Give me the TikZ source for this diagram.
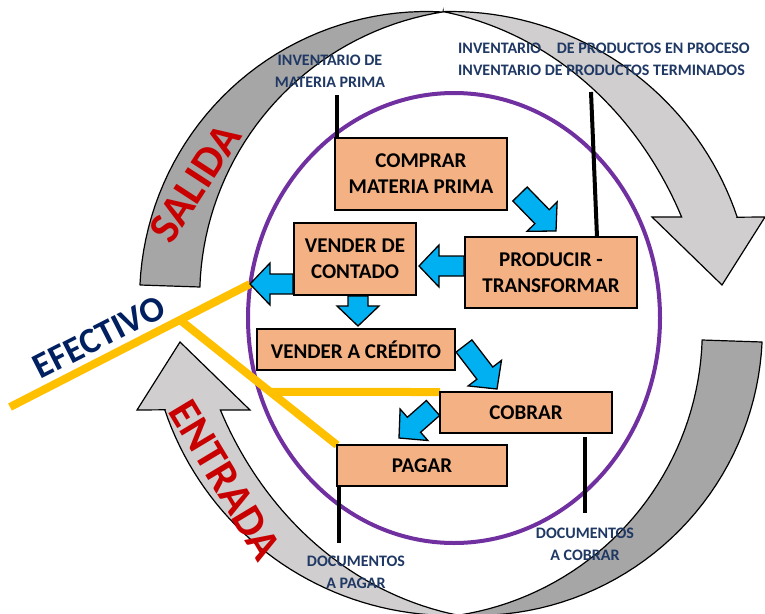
\documentclass[tikz,border=0pt]{standalone}
\usepackage{fontspec}
\setmainfont{Carlito}
\usetikzlibrary{calc}
\definecolor{dkgray}{HTML}{A6A6A6}
\definecolor{ltgray}{HTML}{D0CECE}
\definecolor{purplec}{HTML}{7030A0}
\definecolor{ylwc}{HTML}{FFC000}
\definecolor{bluec}{HTML}{00B0F0}
\definecolor{boxfill}{HTML}{F4B183}
\definecolor{navyc}{HTML}{1F3864}
\definecolor{efnavy}{HTML}{002060}
\definecolor{bigred}{HTML}{C80000}
\newcommand\barrow[2]{%
  \coordinate (bh) at ($(#2)!20pt!(#1)$);
  \draw[bluearr] ($(#1)!10pt!90:(#2)$) -- ($(bh)!10pt!90:(#2)$) -- ($(bh)!21pt!90:(#2)$) -- (#2)
    -- ($(bh)!21pt!-90:(#2)$) -- ($(bh)!10pt!-90:(#2)$) -- ($(#1)!10pt!-90:(#2)$) -- cycle;}
\begin{document}
\begin{tikzpicture}[x=1pt,y=-1pt,
  box/.style={draw=black, line width=1.8pt, fill=boxfill, inner sep=0pt, outer sep=0pt, align=center,
    font=\fontsize{21}{26}\selectfont\bfseries},
  lbl/.style={text=navyc, font=\fontsize{16}{22}\selectfont\bfseries, align=center, inner sep=0pt},
  big/.style={text=bigred, font=\fontsize{44}{44}\selectfont\bfseries, inner sep=0pt},
  blk/.style={line width=4pt, draw=black},
  ylw/.style={line width=8pt, draw=ylwc},
  bluearr/.style={fill=bluec, draw=black, line width=1.3pt, line join=miter},
  darkarc/.style={fill=dkgray, draw=black, line width=1.2pt, line join=round},
  lightarc/.style={fill=ltgray, draw=black, line width=1.2pt, line join=miter},
  ring/.style={draw=purplec, line width=4pt}]
\useasboundingbox (0,0) rectangle (765,613);
\fill[white] (0,0) rectangle (765,613);
% ring of gray arrows (top half, then rotated copy)
\foreach \rot in {0,180}{
\begin{scope}[rotate around={\rot:(451,313.5)}]
  \draw[darkarc] (140,285) -- (200,287)
    -- plot[domain=181.9:261.1,samples=40] ({487.7+288*cos(\x)},{296.4+288*sin(\x)})
    -- plot[domain=273.3:182.7,samples=40] ({426.6+287*cos(\x)},{298.5+287*sin(\x)}) -- cycle;
  \draw[lightarc] (443.1,11.6)
    -- plot[domain=0:1,samples=40,variable=\t] ({451+(302-52*sin(90*\t))*cos(-91.5+68.8*\t)},{313.5+(302-52*sin(90*\t))*sin(-91.5+68.8*\t)})
    -- (652,217) -- (722,285) -- (765,217) -- (737.2,217.2)
    -- plot[domain=-18.6:-91.5,samples=40] ({451+302*cos(\x)},{313.5+302*sin(\x)}) -- cycle;
\end{scope}}
% purple circle
\draw[ring] (454,318) ellipse [x radius=206, y radius=225];
% boxes
\node[box, minimum width=172pt, minimum height=72pt] (comprar) at (421,174) {COMPRAR\\MATERIA PRIMA};
\node[box, minimum width=122pt, minimum height=72pt] (contado) at (355,259) {VENDER DE\\CONTADO};
\node[box, minimum width=172pt, minimum height=71pt] (prod) at (551,272.5) {PRODUCIR -\\TRANSFORMAR};
\node[box, minimum width=198pt, minimum height=41pt] (credito) at (356,349.5) {VENDER A CRÉDITO};
\node[box, minimum width=172pt, minimum height=41pt] (cobrar) at (526,412.5) {COBRAR};
\node[box, minimum width=170pt, minimum height=41pt] (pagar) at (422,465.5) {PAGAR};
% black lines
\coordinate (i1) at (337,95);
\coordinate (i2) at (591,92);
\coordinate (i2b) at ($(prod.north east)+(-40,0)$);
\coordinate (d1) at (585,513);
\coordinate (d2) at (339,543);
\draw[blk] (i1) -- (i1 |- comprar.north);
\draw[blk] (i2) -- (i2b);
\draw[blk] ($(cobrar.south)+(59,4)$) -- (d1);
\draw[blk] (d2 |- pagar.south) -- (d2);
% yellow lines
\coordinate (efa) at (10,407);
\coordinate (t3) at (250,284);
\coordinate (j) at ($(efa)!0.708!(t3)$);
\coordinate (hj) at ($(j)!0.576!(pagar.north west)$);
\draw[ylw] (efa) -- (t3);
\draw[ylw] (j) -- (pagar.north west);
\draw[ylw] (hj) -- (cobrar.north west);
% redraw boxes over yellow
\node[box, minimum width=170pt, minimum height=41pt] at (pagar) {PAGAR};
\node[box, minimum width=172pt, minimum height=41pt] at (cobrar) {COBRAR};
% blue arrows
\coordinate (a1s) at (520,194); \coordinate (a1e) at (556,231);
\coordinate (a2s) at (464,266); \coordinate (a2e) at (419,266);
\coordinate (a3s) at (293,284);
\coordinate (a4s) at (358,296); \coordinate (a4e) at (358,326);
\coordinate (a5s) at (464,346); \coordinate (a5e) at (497,389);
\coordinate (a6s) at (433,408); \coordinate (a6e) at (399,438);
\barrow{a1s}{a1e}
\barrow{a2s}{a2e}
\barrow{a3s}{t3}
\barrow{a4s}{a4e}
\barrow{a5s}{a5e}
\barrow{a6s}{a6e}
% labels
\node[lbl] (invmp) at (330,71) {INVENTARIO DE\\MATERIA PRIMA};
\node[lbl, align=left, anchor=west] (invpp) at (458,59) {INVENTARIO\hspace{0.75em} DE PRODUCTOS EN PROCESO\\INVENTARIO DE PRODUCTOS TERMINADOS};
\node[lbl] (docp) at (356,572) {DOCUMENTOS\\A PAGAR};
\node[lbl] (docc) at (585,544) {DOCUMENTOS\\A COBRAR};
\node[big, rotate=57] (salida) at (195,183) {SALIDA};
\node[big, rotate=-59] (entrada) at (225,480) {ENTRADA};
\node[font=\fontsize{36}{36}\selectfont\bfseries, text=efnavy, rotate=27, inner sep=0pt] (efectivo) at (99,337) {EFECTIVO};
\end{tikzpicture}
\end{document}
